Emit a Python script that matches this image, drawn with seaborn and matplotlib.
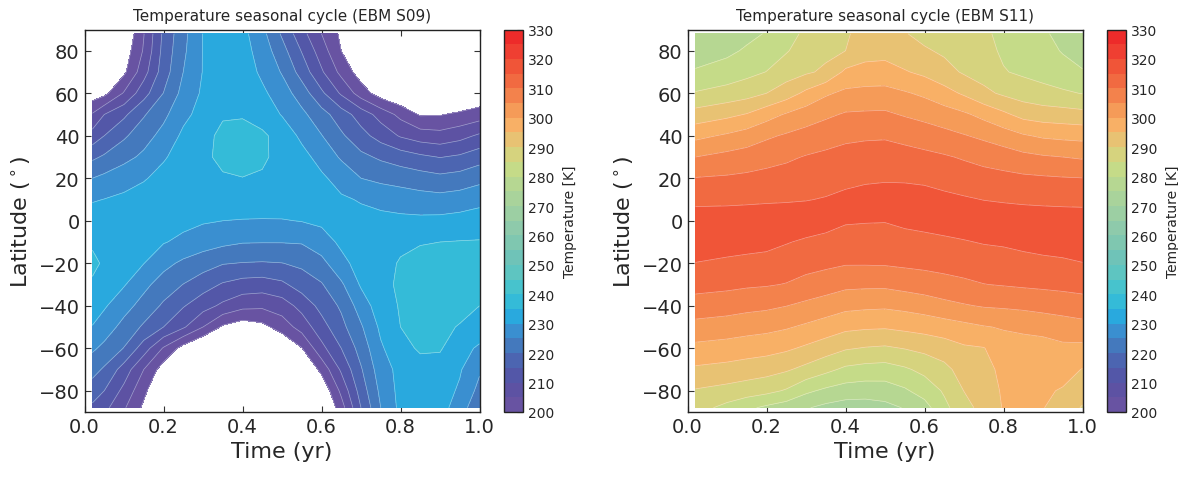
import numpy as np
import matplotlib
matplotlib.use("Agg")
import matplotlib.pyplot as plt
from matplotlib.colors import ListedColormap, BoundaryNorm
import seaborn as sns

# ---------------- data ----------------
lat = [-88, -80, -70, -60, -50, -40, -30, -20, -10, 0, 10, 20, 30, 40, 50, 60, 70, 80, 88]

time_s09 = [0.02, 0.05, 0.10, 0.15, 0.20, 0.25, 0.30, 0.35, 0.40, 0.45, 0.50,
            0.55, 0.60, 0.65, 0.70, 0.75, 0.80, 0.85, 0.90, 0.95, 1.00]
# rows follow `lat`, columns follow `time_s09` (K)
temp_s09 = [
    [214.0, 211.5, 205.6, 199.0, 192.0, 187.0, 183.5, 181.5, 181.0, 182.0, 184.0, 187.5, 193.0, 202.8, 215.0, 225.0, 231.3, 232.5, 232.0, 227.5, 221.0],
    [217.5, 215.0, 208.6, 201.3, 194.0, 189.0, 185.5, 183.5, 183.0, 184.0, 186.0, 189.5, 195.5, 206.2, 217.2, 226.2, 231.5, 232.8, 232.3, 229.3, 223.5],
    [221.8, 219.3, 212.8, 205.0, 197.5, 192.0, 188.5, 186.5, 186.0, 187.0, 189.5, 193.5, 201.5, 210.8, 219.5, 227.7, 231.5, 233.3, 233.3, 230.5, 225.7],
    [225.8, 223.8, 219.8, 212.5, 204.5, 198.0, 193.5, 191.0, 190.5, 191.5, 194.5, 199.8, 208.5, 215.0, 222.0, 229.3, 233.5, 235.6, 235.4, 232.3, 229.0],
    [229.8, 227.5, 223.4, 219.2, 215.0, 210.7, 205.0, 199.2, 197.0, 198.5, 202.3, 207.0, 213.0, 218.5, 224.4, 231.0, 235.0, 235.8, 235.7, 234.8, 233.7],
    [232.2, 230.6, 226.8, 223.2, 219.2, 215.4, 212.0, 209.0, 206.5, 206.0, 207.5, 211.7, 216.6, 220.8, 227.3, 232.7, 235.4, 236.3, 236.4, 236.0, 235.0],
    [234.5, 233.0, 230.4, 226.3, 222.8, 219.9, 217.2, 214.5, 213.0, 212.6, 214.0, 217.3, 219.6, 224.2, 230.6, 233.6, 235.8, 236.7, 236.9, 236.6, 236.0],
    [235.8, 234.5, 232.0, 230.1, 226.5, 224.0, 222.2, 220.3, 219.8, 219.6, 219.9, 221.0, 223.5, 228.5, 232.0, 233.8, 235.3, 236.0, 236.3, 236.3, 236.2],
    [234.5, 234.0, 233.2, 232.3, 230.3, 228.9, 227.3, 226.2, 225.3, 225.2, 225.2, 225.4, 227.7, 231.0, 232.5, 233.5, 234.3, 234.8, 235.0, 235.2, 235.3],
    [233.0, 233.2, 233.2, 232.8, 232.0, 231.3, 230.5, 230.0, 229.7, 229.6, 229.7, 230.2, 231.0, 231.6, 231.6, 231.3, 231.1, 231.1, 231.3, 231.8, 232.4],
    [229.5, 230.1, 231.0, 232.0, 232.7, 233.2, 233.5, 233.8, 233.8, 233.6, 233.2, 232.6, 231.8, 230.7, 229.6, 228.6, 227.8, 227.0, 226.7, 227.3, 228.5],
    [225.0, 226.2, 228.0, 229.6, 231.5, 232.8, 233.8, 234.6, 234.9, 234.5, 233.5, 232.3, 230.9, 228.0, 225.0, 223.8, 223.0, 222.2, 221.3, 222.0, 223.5],
    [219.0, 220.7, 223.5, 226.0, 229.5, 232.0, 234.2, 235.9, 236.7, 235.7, 233.6, 231.7, 228.1, 224.4, 221.2, 219.2, 217.6, 216.0, 214.8, 215.8, 217.9],
    [212.0, 215.0, 219.2, 223.0, 226.6, 231.0, 233.8, 235.9, 236.6, 235.8, 233.2, 228.9, 225.2, 220.8, 216.7, 213.0, 209.5, 207.5, 206.8, 208.3, 210.8],
    [205.5, 210.0, 214.0, 219.5, 223.8, 228.7, 231.8, 234.6, 234.6, 233.0, 229.7, 226.2, 221.9, 217.4, 212.8, 208.1, 203.6, 199.5, 199.7, 201.0, 202.5],
    [197.0, 198.5, 205.5, 213.0, 220.1, 226.6, 230.8, 233.5, 233.5, 231.0, 227.4, 222.6, 216.0, 209.3, 202.6, 197.5, 195.0, 193.5, 193.0, 193.5, 195.5],
    [193.0, 195.5, 199.0, 208.0, 217.5, 225.0, 230.2, 233.0, 232.8, 229.0, 224.6, 218.0, 210.7, 203.6, 197.5, 193.5, 190.5, 189.0, 188.5, 189.0, 191.0],
    [190.0, 193.0, 197.0, 205.5, 216.6, 224.0, 230.2, 233.0, 232.0, 227.8, 221.9, 214.7, 207.5, 200.0, 195.0, 190.0, 187.0, 185.0, 184.0, 185.0, 187.0],
    [186.0, 189.0, 195.0, 204.8, 216.0, 223.5, 230.2, 232.5, 231.5, 226.5, 219.3, 211.8, 205.0, 199.0, 193.0, 188.0, 185.0, 183.0, 182.0, 182.0, 184.0],
]

time_s11 = [0.02, 0.10, 0.15, 0.20, 0.25, 0.30, 0.35, 0.40, 0.45, 0.50,
            0.55, 0.60, 0.65, 0.70, 0.75, 0.80, 0.85, 0.90, 0.95, 1.00]
temp_s11 = [
    [287.0, 283.5, 281.0, 279.0, 277.3, 275.4, 273.7, 272.6, 272.6, 273.5, 275.3, 278.0, 283.8, 288.0, 292.0, 295.3, 296.0, 295.2, 292.6, 289.6],
    [289.6, 288.4, 287.5, 286.4, 284.5, 281.0, 279.0, 277.7, 277.3, 277.6, 279.3, 282.1, 285.6, 290.1, 292.6, 295.6, 296.3, 295.7, 294.6, 292.0],
    [294.2, 293.4, 292.6, 291.9, 290.6, 288.6, 286.3, 284.0, 283.2, 282.9, 284.3, 286.3, 288.6, 292.1, 293.7, 296.0, 296.8, 296.5, 296.8, 294.8],
    [298.7, 298.0, 297.4, 296.8, 295.8, 294.2, 292.4, 290.5, 289.7, 289.3, 290.2, 291.3, 292.6, 294.3, 294.8, 297.8, 298.0, 298.0, 299.0, 298.8],
    [303.3, 302.6, 301.9, 301.4, 300.5, 299.2, 297.8, 296.2, 295.7, 295.5, 296.2, 296.9, 297.7, 298.7, 299.7, 300.4, 301.0, 301.7, 302.5, 303.3],
    [307.9, 307.2, 306.5, 306.0, 305.1, 303.9, 302.7, 301.4, 301.0, 300.8, 301.4, 302.3, 303.6, 304.6, 305.4, 305.7, 306.1, 306.7, 307.3, 307.9],
    [311.7, 311.2, 310.7, 310.4, 309.8, 308.5, 307.4, 306.2, 306.0, 306.0, 306.8, 307.6, 308.4, 309.1, 309.9, 310.3, 310.7, 311.0, 311.3, 311.7],
    [314.9, 314.1, 313.6, 313.2, 312.5, 311.7, 311.1, 310.4, 310.4, 310.5, 310.9, 311.2, 311.6, 312.1, 312.6, 313.0, 313.4, 313.9, 314.3, 314.9],
    [317.4, 317.2, 316.9, 316.5, 315.3, 314.3, 313.5, 312.9, 312.8, 312.9, 313.3, 313.7, 314.1, 314.7, 315.3, 315.6, 316.3, 316.8, 317.0, 317.3],
    [317.8, 317.8, 318.0, 318.0, 318.0, 317.8, 317.0, 315.5, 315.3, 315.2, 316.0, 316.5, 317.2, 317.5, 317.7, 317.8, 317.8, 317.8, 317.7, 317.6],
    [313.6, 313.8, 314.0, 314.3, 314.5, 314.8, 315.3, 316.2, 317.2, 317.5, 317.5, 317.2, 316.2, 315.5, 314.9, 314.5, 314.1, 313.8, 313.6, 313.5],
    [310.2, 310.6, 311.0, 311.5, 312.0, 312.6, 313.1, 313.7, 314.1, 314.4, 314.3, 313.9, 313.2, 312.6, 311.9, 311.4, 310.9, 310.6, 310.3, 310.1],
    [305.0, 306.5, 307.3, 308.3, 309.2, 310.3, 311.0, 311.5, 311.9, 312.1, 311.7, 311.2, 310.5, 309.5, 308.4, 307.5, 306.3, 305.5, 305.0, 304.4],
    [298.7, 300.7, 302.2, 304.2, 305.6, 306.8, 308.0, 309.1, 309.4, 309.5, 308.7, 307.7, 306.5, 305.3, 304.0, 302.4, 300.5, 299.3, 298.8, 298.5],
    [292.0, 293.8, 295.3, 298.0, 300.5, 302.5, 304.1, 305.5, 305.7, 305.8, 304.6, 303.5, 302.3, 300.8, 298.6, 296.0, 293.4, 292.5, 292.1, 291.6],
    [285.4, 287.0, 288.1, 290.0, 292.6, 296.1, 299.3, 301.1, 301.5, 301.7, 300.5, 299.1, 296.8, 294.3, 291.2, 289.2, 287.7, 286.6, 285.8, 284.8],
    [280.4, 282.0, 283.6, 285.1, 287.7, 289.3, 290.9, 296.0, 296.8, 296.8, 295.4, 293.9, 291.8, 289.4, 288.0, 285.3, 284.2, 283.2, 281.6, 280.3],
    [278.0, 279.0, 280.6, 282.5, 284.6, 287.3, 288.8, 290.0, 293.0, 293.5, 292.0, 290.6, 289.2, 288.0, 286.5, 284.3, 283.0, 281.5, 279.7, 278.3],
    [277.0, 277.8, 278.8, 280.3, 283.5, 285.8, 288.0, 289.5, 291.5, 292.3, 290.3, 288.5, 287.8, 286.6, 285.7, 284.0, 282.3, 280.6, 278.8, 277.5],
]

levels = list(range(200, 331, 5))
cbar_ticks = list(range(200, 331, 10))
xticks = [0.0, 0.2, 0.4, 0.6, 0.8, 1.0]
yticks = [-80, -60, -40, -20, 0, 20, 40, 60, 80]
titles = ["Temperature seasonal cycle (EBM S09)", "Temperature seasonal cycle (EBM S11)"]

band_colors = [
    "#6853a2", "#5d52a3", "#5357a8", "#4c65b1", "#4479bd", "#3a8fd0",
    "#29a9de", "#34bbd8", "#47c3cd", "#5ec5c1", "#6fc3b8", "#7fc7b0",
    "#8ecaab", "#9ccfa3", "#a9d39b", "#b6d792", "#c5db88", "#d6d37e",
    "#e8c273", "#f8b066", "#f59b58", "#f3824c", "#f16a41", "#f05538",
    "#ef3f32", "#ed2b2a",
]

# ---------------- style ----------------
sns.set_style("ticks", {"xtick.direction": "in", "ytick.direction": "in",
                        "axes.edgecolor": "#222222"})
plt.rcParams["font.family"] = ["DejaVu Sans"]
plt.rcParams["xtick.top"] = True
plt.rcParams["ytick.right"] = True

cmap = ListedColormap(sns.color_palette(band_colors))
norm = BoundaryNorm(levels, cmap.N)

W, H = 1178, 481
fig = plt.figure(figsize=(W / 100, H / 100), dpi=100)

ax_left_px = [84.5, 687.5]
cax_left_px = [504, 1107]
bottom_px, top_px = 413, 30.5


def rect(x0, w):
    return [x0 / W, (H - bottom_px) / H, w / W, (bottom_px - top_px) / H]


panels = [(time_s09, temp_s09), (time_s11, temp_s11)]
for i, (tt, TT) in enumerate(panels):
    ax = fig.add_axes(rect(ax_left_px[i], 395))
    cax = fig.add_axes(rect(cax_left_px[i], 19))
    T = np.array(TT)
    cf = ax.contourf(tt, lat, T, levels=levels, cmap=cmap, norm=norm)
    ax.contour(tt, lat, T, levels=levels, colors="white", linewidths=0.5, alpha=0.45)
    ax.set_xlim(0, 1)
    ax.set_ylim(-90, 90)
    ax.set_xticks(xticks)
    ax.set_yticks(yticks)
    ax.tick_params(axis="both", which="major", labelsize=14, length=4, width=0.8,
                   direction="in", top=True, right=True, color="#333333")
    ax.set_xlabel("Time (yr)", fontsize=16)
    ax.set_ylabel(r"Latitude ($^\circ$)", fontsize=16)
    ax.set_title(titles[i], fontsize=11, pad=7)
    for sp in ax.spines.values():
        sp.set_linewidth(1.0)
        sp.set_color("#222222")
    cb = fig.colorbar(cf, cax=cax, ticks=cbar_ticks)
    cb.ax.tick_params(labelsize=10, direction="in", length=4, width=0.8, color="#333333")
    cb.set_label("Temperature [K]", fontsize=10, labelpad=6)
    cb.outline.set_linewidth(1.0)
    cb.outline.set_edgecolor("#222222")

fig.savefig("out.png", dpi=100)
